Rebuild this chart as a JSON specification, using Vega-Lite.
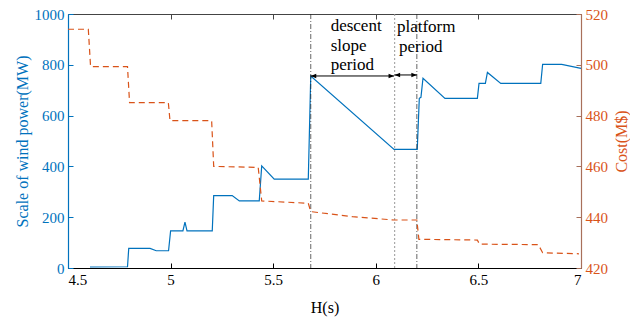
{
  "$schema": "https://vega.github.io/schema/vega-lite/v6.json",
  "width": 513,
  "height": 254,
  "autosize": {"type": "none"},
  "padding": {"left": 68, "top": 14, "right": 49, "bottom": 52},
  "config": {
    "font": "Liberation Serif",
    "view": {"stroke": null},
    "axis": {"grid": false, "labelFont": "Liberation Serif", "titleFont": "Liberation Serif", "labelFontSize": 15, "titleFontSize": 16, "titleFontWeight": "normal", "tickSize": -5, "labelPadding": 9, "domainWidth": 1.2, "tickWidth": 1}
  },
  "datasets": {
    "wind": [
      {"H": 4.607, "MW": 4}, {"H": 4.79, "MW": 5}, {"H": 4.796, "MW": 77}, {"H": 4.9, "MW": 77},
      {"H": 4.93, "MW": 68}, {"H": 4.99, "MW": 68}, {"H": 5.0, "MW": 146}, {"H": 5.06, "MW": 146},
      {"H": 5.07, "MW": 181}, {"H": 5.08, "MW": 146}, {"H": 5.203, "MW": 146}, {"H": 5.21, "MW": 285},
      {"H": 5.3, "MW": 285}, {"H": 5.335, "MW": 264}, {"H": 5.432, "MW": 264}, {"H": 5.444, "MW": 402},
      {"H": 5.505, "MW": 350}, {"H": 5.671, "MW": 350}, {"H": 5.683, "MW": 756}, {"H": 6.089, "MW": 467},
      {"H": 6.202, "MW": 467}, {"H": 6.212, "MW": 668}, {"H": 6.22, "MW": 672}, {"H": 6.23, "MW": 747},
      {"H": 6.337, "MW": 668}, {"H": 6.495, "MW": 668}, {"H": 6.503, "MW": 727}, {"H": 6.534, "MW": 727},
      {"H": 6.544, "MW": 770}, {"H": 6.609, "MW": 727}, {"H": 6.804, "MW": 727}, {"H": 6.813, "MW": 802},
      {"H": 6.906, "MW": 802}, {"H": 7.0, "MW": 786}
    ],
    "cost": [
      {"H": 4.5, "Cost": 514}, {"H": 4.599, "Cost": 514}, {"H": 4.61, "Cost": 499.3}, {"H": 4.79, "Cost": 499.3},
      {"H": 4.8, "Cost": 485.1}, {"H": 4.989, "Cost": 485.1}, {"H": 4.997, "Cost": 478}, {"H": 5.2, "Cost": 478},
      {"H": 5.21, "Cost": 460}, {"H": 5.427, "Cost": 459.6}, {"H": 5.444, "Cost": 446.4}, {"H": 5.671, "Cost": 445.5},
      {"H": 5.683, "Cost": 442.2}, {"H": 5.886, "Cost": 440.2}, {"H": 6.089, "Cost": 438.9}, {"H": 6.2, "Cost": 438.9},
      {"H": 6.21, "Cost": 431.3}, {"H": 6.495, "Cost": 431}, {"H": 6.505, "Cost": 429.4}, {"H": 6.792, "Cost": 429.2},
      {"H": 6.813, "Cost": 426}, {"H": 6.99, "Cost": 425.6}
    ]
  },
  "layer": [
    {
      "layer": [
        {
          "data": {"name": "wind"},
          "mark": {"type": "line", "color": "#0072BD", "strokeWidth": 1.2},
          "encoding": {
            "x": {"field": "H", "type": "quantitative", "scale": {"domain": [4.5, 7], "nice": false, "zero": false},
              "axis": {"title": "H(s)", "values": [4.5, 5, 5.5, 6, 6.5, 7], "format": "~g", "labelColor": "black", "titleColor": "black", "domainColor": "black", "tickColor": "black", "titlePadding": 12}},
            "y": {"field": "MW", "type": "quantitative", "scale": {"domain": [0, 1000], "nice": false},
              "axis": {"title": "Scale of wind power(MW)", "values": [0, 200, 400, 600, 800, 1000], "format": "d", "labelColor": "#0072BD", "titleColor": "#0072BD", "domainColor": "#0072BD", "tickColor": "#0072BD", "titlePadding": 4}}
          }
        },
        {
          "data": {"values": [{"H": 5.683}, {"H": 6.2}]},
          "mark": {"type": "rule", "color": "#222222", "strokeWidth": 0.7, "strokeDash": [5, 2, 1, 2]},
          "encoding": {"x": {"field": "H", "type": "quantitative"}}
        },
        {
          "data": {"values": [{"H": 6.092}]},
          "mark": {"type": "rule", "color": "#999999", "strokeWidth": 1, "strokeDash": [2, 2]},
          "encoding": {"x": {"field": "H", "type": "quantitative"}}
        },
        {
          "data": {"values": [{"H": 5.683, "H2": 6.089, "MW": 756}, {"H": 6.092, "H2": 6.2, "MW": 760}]},
          "mark": {"type": "rule", "color": "black", "strokeWidth": 1},
          "encoding": {
            "x": {"field": "H", "type": "quantitative"},
            "x2": {"field": "H2"},
            "y": {"field": "MW", "type": "quantitative"}
          }
        },
        {
          "data": {"values": [{"H": 5.683, "MW": 756}, {"H": 6.092, "MW": 760}]},
          "mark": {"type": "point", "shape": "M0,0L2,-0.8L2,0.8Z", "filled": true, "color": "black", "size": 30, "opacity": 1},
          "encoding": {
            "x": {"field": "H", "type": "quantitative"},
            "y": {"field": "MW", "type": "quantitative"}
          }
        },
        {
          "data": {"values": [{"H": 6.089, "MW": 756}, {"H": 6.2, "MW": 760}]},
          "mark": {"type": "point", "shape": "M0,0L-2,-0.8L-2,0.8Z", "filled": true, "color": "black", "size": 30, "opacity": 1},
          "encoding": {
            "x": {"field": "H", "type": "quantitative"},
            "y": {"field": "MW", "type": "quantitative"}
          }
        },
        {
          "data": {"values": [
            {"H": 5.78, "MW": 953, "label": "descent"},
            {"H": 5.78, "MW": 874, "label": "slope"},
            {"H": 5.78, "MW": 800, "label": "period"},
            {"H": 6.103, "MW": 950, "label": "platform"},
            {"H": 6.113, "MW": 872, "label": "period"}
          ]},
          "mark": {"type": "text", "align": "left", "baseline": "middle", "fontSize": 17, "color": "black", "font": "Liberation Serif"},
          "encoding": {
            "x": {"field": "H", "type": "quantitative"},
            "y": {"field": "MW", "type": "quantitative"},
            "text": {"field": "label"}
          }
        }
      ]
    },
    {
      "data": {"name": "cost"},
      "mark": {"type": "line", "color": "#D95319", "strokeWidth": 1.2, "strokeDash": [6, 4]},
      "encoding": {
        "x": {"field": "H", "type": "quantitative", "scale": {"domain": [4.5, 7], "nice": false, "zero": false},
          "axis": {"orient": "top", "title": null, "labels": false, "values": [4.5, 5, 5.5, 6, 6.5, 7], "domainColor": "#444444", "tickColor": "#444444"}},
        "y": {"field": "Cost", "type": "quantitative", "scale": {"domain": [420, 520], "nice": false, "zero": false},
          "axis": {"orient": "right", "title": "Cost(M$)", "titleAngle": 270, "values": [420, 440, 460, 480, 500, 520], "labelColor": "#D95319", "titleColor": "#D95319", "domainColor": "#A8705A", "tickColor": "#A8705A", "titlePadding": 22}}
      }
    }
  ],
  "resolve": {"scale": {"y": "independent"}, "axis": {"x": "independent"}}
}
